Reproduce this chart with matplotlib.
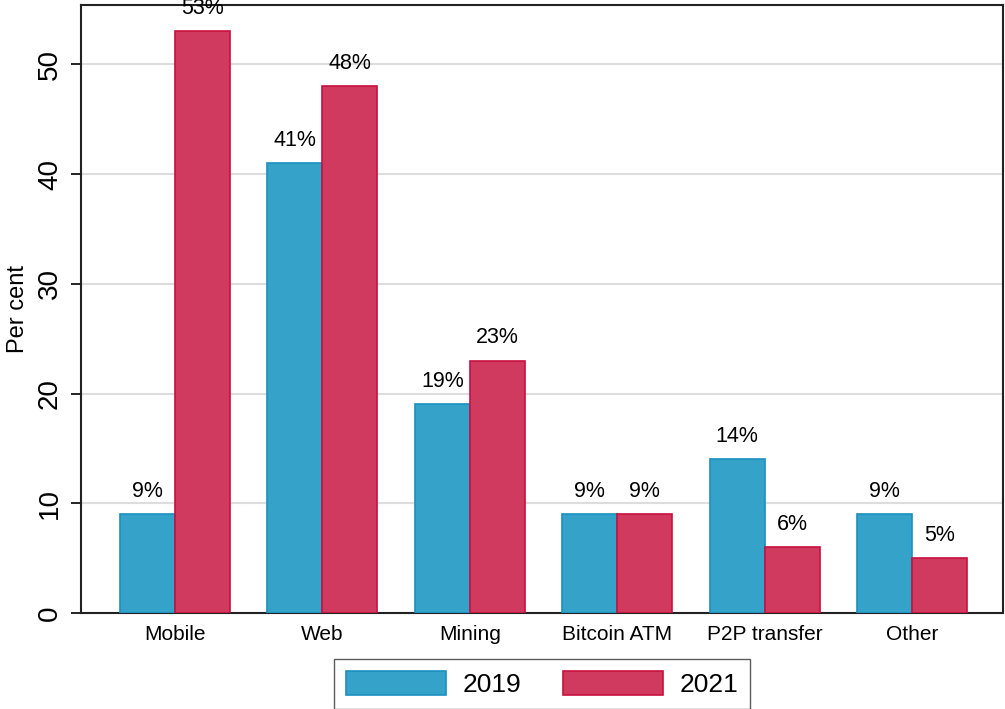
import numpy as np
import matplotlib
matplotlib.use("Agg")
from matplotlib import pyplot as plt

categories = ["Mobile", "Web", "Mining", "Bitcoin ATM", "P2P transfer", "Other"]
vals_2019 = [9, 41, 19, 9, 14, 9]
vals_2021 = [53, 48, 23, 9, 6, 5]
series = ["2019", "2021"]

plt.rcParams['font.family'] = ['Liberation Sans', 'DejaVu Sans']

fig = plt.figure(figsize=(10.05, 7.09), dpi=100)
ax = fig.add_axes((81 / 1005, 1 - 613 / 709, (1003 - 81) / 1005, (613 - 5) / 709))

x = np.arange(len(categories))
w = 0.373
blue_face, blue_edge = "#35a2c9", "#1a8fbf"
red_face, red_edge = "#cf3a5e", "#c8103e"

b1 = ax.bar(x - w / 2, vals_2019, w, color=blue_face, edgecolor=blue_edge, linewidth=1.2,
            label=series[0], zorder=3)
b2 = ax.bar(x + w / 2, vals_2021, w, color=red_face, edgecolor=red_edge, linewidth=1.2,
            label=series[1], zorder=3)

for bars, vals in ((b1, vals_2019), (b2, vals_2021)):
    for rect, v in zip(bars, vals):
        ax.annotate(f"{v}%", (rect.get_x() + rect.get_width() / 2, v),
                    xytext=(0, 9), textcoords="offset points",
                    ha="center", va="bottom", fontsize=15.5, zorder=4)

ax.set_xlim(-0.637, 5.617)
ax.set_ylim(0, 55.4)
ax.set_yticks([0, 10, 20, 30, 40, 50])
ax.set_yticklabels(["0", "10", "20", "30", "40", "50"], rotation=90, va="center", fontsize=20)
ax.set_xticks(x)
ax.set_xticklabels(categories, fontsize=15)
ax.tick_params(axis="x", length=0, pad=9)
ax.tick_params(axis="y", length=7, width=1.2, pad=6)
ax.yaxis.grid(True, color="#dddddd", linewidth=1.5, zorder=0)
ax.set_axisbelow(True)
for s in ax.spines.values():
    s.set_linewidth(1.5)
    s.set_color("#222222")
ax.set_ylabel("Per cent", fontsize=17, labelpad=6)

leg = fig.legend(handles=[b1, b2], labels=series, loc="lower center",
                 bbox_to_anchor=(542 / 1005, 0.0), ncol=2, fontsize=19,
                 frameon=True, fancybox=False, edgecolor="#333333",
                 handlelength=3.8, handleheight=1.0, columnspacing=1.6,
                 borderpad=0.45, handletextpad=0.6, borderaxespad=0)
leg.get_frame().set_linewidth(1.0)

fig.savefig("out.png", dpi=100)
